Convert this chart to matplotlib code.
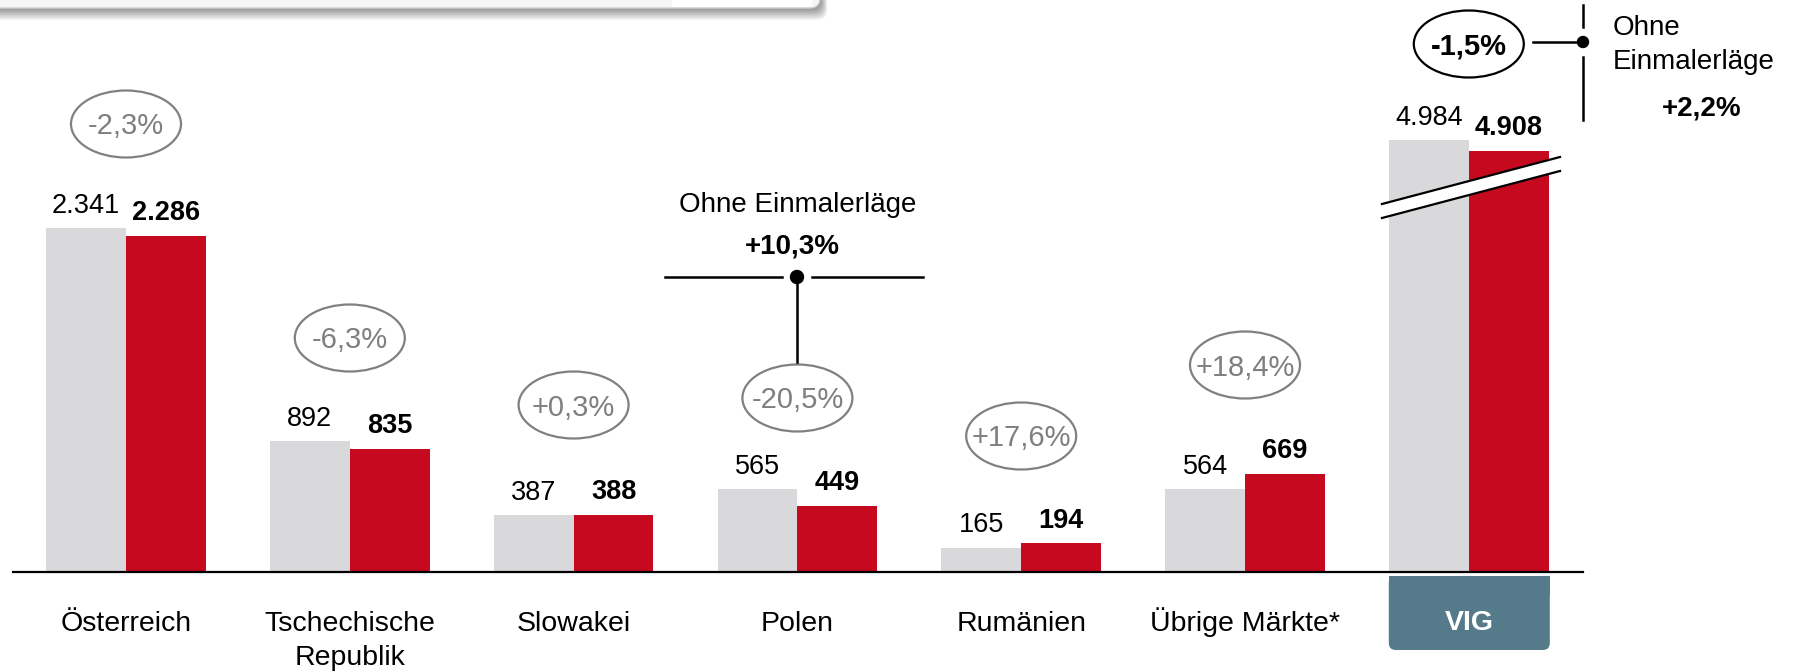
import matplotlib
matplotlib.use("Agg")
import matplotlib.pyplot as plt
import numpy as np
from matplotlib.patches import Ellipse, FancyBboxPatch, Rectangle, Polygon, Circle

# data
categories = ["Österreich", "Tschechische\nRepublik", "Slowakei", "Polen",
              "Rumänien", "Übrige Märkte*", "VIG"]
prev_year = [2341, 892, 387, 565, 165, 564, 4984]
curr_year = [2286, 835, 388, 449, 194, 669, 4908]
change_labels = ["-2,3%", "-6,3%", "+0,3%", "-20,5%", "+17,6%", "+18,4%", "-1,5%"]
vig_cut = 2045  # amount cut away by the axis break on the VIG bars

# layout (pixels)
W, H = 1803, 671
BASE = 572
X0 = 126
GROUP_PX = 223.8
UNIT_PX = 0.147
BAR_W = 0.357
ellipse_y = [124, 338, 405, 398, 436, 365, 44]

GREY = "#d9d9db"
RED = "#c50a1f"
TEAL = "#557b8a"
OVAL = "#808080"

plt.rcParams['font.family'] = ['Liberation Sans', 'DejaVu Sans']

fig = plt.figure(figsize=(W / 100, H / 100), dpi=100, facecolor='white')
ax = fig.add_axes([0, 0, 1, 1])
ax.set_xlim(-X0 / GROUP_PX, (W - X0) / GROUP_PX)
ax.set_ylim(-(H - BASE) / UNIT_PX, BASE / UNIT_PX)
ax.axis('off')

deco = fig.add_axes([0, 0, 1, 1], zorder=2)
deco.set_xlim(0, W)
deco.set_ylim(H, 0)
deco.axis('off')

x = np.arange(len(categories))
prev_shown = np.array(prev_year, dtype=float)
curr_shown = np.array(curr_year, dtype=float)
prev_shown[-1] -= vig_cut
curr_shown[-1] -= vig_cut

ax.bar(x - BAR_W / 2, prev_shown, BAR_W, color=GREY, zorder=2)
ax.bar(x + BAR_W / 2, curr_shown, BAR_W, color=RED, zorder=2)
ax.axhline(0, xmin=13 / W, xmax=1583 / W, color='black', lw=1.6, zorder=3)


def fmt(v):
    return "{:,}".format(v).replace(",", ".")


for i in range(len(categories)):
    ax.annotate(fmt(prev_year[i]), (x[i] - BAR_W / 2, prev_shown[i]),
                xytext=(0, 11), textcoords='offset points',
                ha='center', va='baseline', fontsize=19.5)
    ax.annotate(fmt(curr_year[i]), (x[i] + BAR_W / 2, curr_shown[i]),
                xytext=(0, 11.5), textcoords='offset points',
                ha='center', va='baseline', fontsize=19.5, fontweight='bold')

# category labels
for i, cat in enumerate(categories):
    cx = X0 + GROUP_PX * i
    if cat == "VIG":
        deco.add_patch(FancyBboxPatch((cx - 80, 576), 161, 74,
                                      boxstyle="round,pad=0,rounding_size=7",
                                      fc=TEAL, ec='none'))
        deco.add_patch(Rectangle((cx - 80, 576), 161, 20, fc=TEAL, ec='none'))
        deco.text(cx, 630, cat, ha='center', va='baseline', fontsize=20.5,
                  fontweight='bold', color='white')
        continue
    for k, line in enumerate(cat.split("\n")):
        deco.text(cx, 631 + 34 * k, line, ha='center', va='baseline', fontsize=20.5)

# change ovals
for i, lab in enumerate(change_labels):
    cx = X0 + GROUP_PX * i
    cy = ellipse_y[i]
    total = categories[i] == "VIG"
    deco.add_patch(Ellipse((cx, cy), 110, 67, fill=False,
                           ec='black' if total else OVAL, lw=1.6))
    deco.text(cx, cy + 10.5, lab, ha='center', va='baseline', fontsize=21,
              color='black' if total else '#7f7f7f',
              fontweight='bold' if total else 'normal')

# axis break on VIG
deco.add_patch(Polygon([(1382, 204), (1560, 157), (1560, 171), (1382, 218)],
                       closed=True, fc='white', ec='none', zorder=3))
deco.plot([1382, 1560], [204, 157], color='black', lw=1.6, zorder=4)
deco.plot([1382, 1560], [218, 171], color='black', lw=1.6, zorder=4)

# Polen callout
deco.text(798, 212, "Ohne Einmalerläge", ha='center', va='baseline', fontsize=20)
deco.text(792, 253, "+10,3%", ha='center', va='baseline', fontsize=20, fontweight='bold')
deco.plot([665, 782], [277, 277], color='black', lw=1.8)
deco.plot([812, 923], [277, 277], color='black', lw=1.8)
deco.plot([797, 797], [277, 362], color='black', lw=1.8)
deco.add_patch(Circle((797, 277), 6.5, color='black'))

# VIG callout
deco.plot([1533, 1583], [42, 42], color='black', lw=1.8)
deco.plot([1583, 1583], [5, 27], color='black', lw=1.8)
deco.plot([1583, 1583], [57, 120], color='black', lw=1.8)
deco.add_patch(Circle((1583, 42), 5.5, color='black'))
deco.text(1613, 35, "Ohne", ha='left', va='baseline', fontsize=20)
deco.text(1613, 69, "Einmalerläge", ha='left', va='baseline', fontsize=20)
deco.text(1702, 115, "+2,2%", ha='center', va='baseline', fontsize=20, fontweight='bold')

# cropped header box at the top
for k in range(12, 0, -1):
    deco.add_patch(FancyBboxPatch((-40, -80), 860 + k * 0.6, 88 + k,
                                  boxstyle="round,pad=0,rounding_size=10",
                                  fc='black', ec='none', alpha=0.04))
deco.add_patch(FancyBboxPatch((-40, -80), 860, 88,
                              boxstyle="round,pad=0,rounding_size=10",
                              fc='#f6f6f6', ec='#d0d0d0', lw=1))
deco.add_patch(Rectangle((672, -10), 140, 17, fc='white', ec='none'))

fig.savefig("out.png", dpi=100, facecolor='white')
